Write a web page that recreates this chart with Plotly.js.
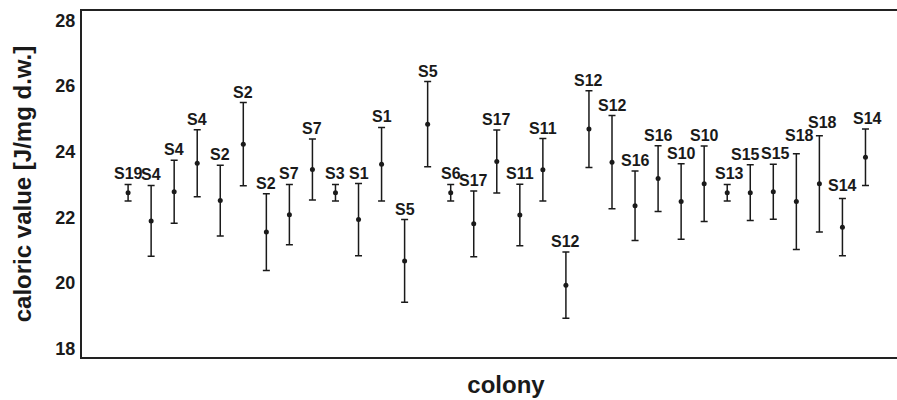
<!DOCTYPE html>
<html>
<head>
<meta charset="utf-8">
<script src="https://cdn.plot.ly/plotly-3.0.1.min.js"></script>
<style>
  html, body { margin: 0; padding: 0; overflow: hidden; background: #fff; width: 897px; height: 400px; }
  #chart { width: 935px; height: 400px; }
</style>
</head>
<body>
<div id="chart"></div>
<script>
// Colony labels (one per measured sample, left to right)
const colonies = ["S19","S4","S4","S4","S2","S2","S2","S7","S7","S3","S1","S1","S5","S5","S6","S17","S17",
                  "S11","S11","S12","S12","S12","S16","S16","S10","S10","S13","S15","S15","S18","S18","S14","S14"];
// Mean caloric value [J/mg d.w.]
const meanValue = [22.75,21.89,22.78,23.65,22.51,24.23,21.55,22.08,23.46,22.75,21.93,23.62,20.67,24.84,22.75,21.80,23.70,
                   22.07,23.45,19.93,24.69,23.68,22.35,23.18,22.48,23.02,22.75,22.75,22.78,22.48,23.02,21.70,23.83];
// Standard deviation
const sdValue = [0.25,1.08,0.96,1.02,1.08,1.27,1.17,0.92,0.93,0.25,1.10,1.12,1.26,1.30,0.25,1.00,0.96,
                 0.94,0.95,1.01,1.17,1.42,1.06,1.00,1.15,1.15,0.25,0.85,0.84,1.46,1.47,0.87,0.86];
const yTicks = [18, 20, 22, 24, 26, 28];

const idx = colonies.map((_, i) => i);
const ink = "#1a1a1a";
const fam = "Liberation Sans, Arial, Helvetica, sans-serif";

const trace = {
  type: "scatter",
  mode: "markers",
  x: idx,
  y: meanValue,
  marker: { color: ink, size: 5 },
  error_y: { type: "data", array: sdValue, visible: true, color: ink, thickness: 1.5, width: 3.5 },
  hoverinfo: "skip",
  showlegend: false
};

// small label nudges (px) that mimic the original placement of crowded labels
const nudgeY = { 29: 8, 30: 3, 31: 3 };
const nudgeX = { 26: 2, 27: -5, 28: 2, 29: 3, 30: 3, 32: 2 };

const annotations = colonies.map((lab, i) => ({
  x: i,
  y: meanValue[i] + sdValue[i],
  xref: "x", yref: "y",
  text: lab,
  showarrow: false,
  xanchor: "center",
  yanchor: "bottom",
  yshift: (nudgeY[i] || 0),
  xshift: (nudgeX[i] || 0),
  font: { family: fam, size: 16, color: ink, weight: "bold" }
}));

const layout = {
  width: 935,
  height: 400,
  margin: { l: 82, r: 5, t: 11, b: 43 },
  paper_bgcolor: "#ffffff",
  plot_bgcolor: "#ffffff",
  showlegend: false,
  font: { family: fam, color: ink },
  xaxis: {
    range: [-2, 34.8],
    showgrid: false, zeroline: false,
    showticklabels: false, ticks: "",
    showline: true, mirror: true, linecolor: "#222", linewidth: 2,
    title: { text: "colony", font: { family: fam, size: 24, color: ink, weight: "bold" }, standoff: 18 }
  },
  yaxis: {
    range: [17.74, 28.29],
    tickvals: yTicks,
    ticktext: yTicks.map(String),
    showgrid: false, zeroline: false, ticks: "",
    showline: true, linecolor: "#222", linewidth: 2,
    ticklabelstandoff: 1,
    tickfont: { family: fam, size: 18, color: ink, weight: "bold" },
    title: { text: "caloric value [J/mg d.w.]", font: { family: fam, size: 24, color: ink, weight: "bold" }, standoff: 17 }
  },
  annotations: annotations
};

Plotly.newPlot("chart", [trace], layout, { staticPlot: true, displayModeBar: false });
</script>
</body>
</html>
